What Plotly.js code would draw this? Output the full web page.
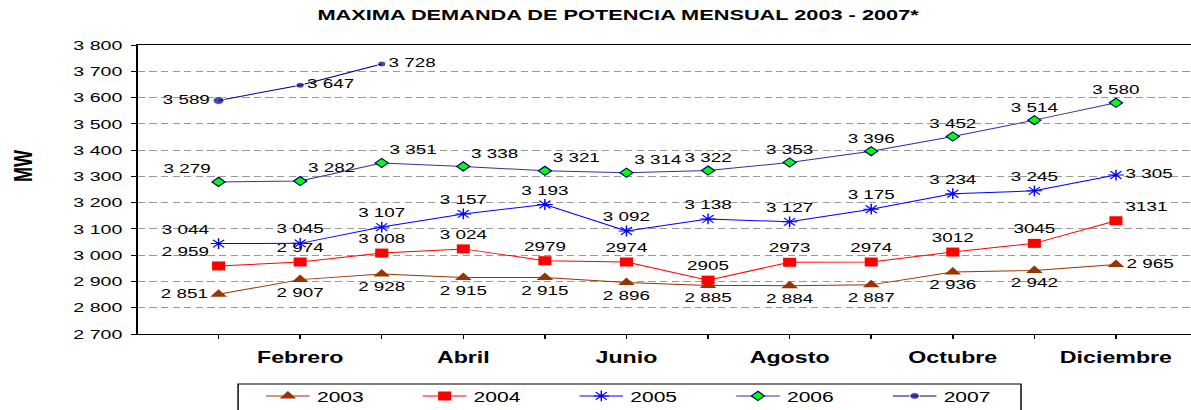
<!DOCTYPE html>
<html>
<head>
<meta charset="utf-8">
<script src="https://cdn.plot.ly/plotly-3.0.1.min.js"></script>
<style>
  html, body { margin: 0; padding: 0; background: #ffffff; overflow: hidden; }
  #chart { width: 821px; height: 410px; transform: scaleX(1.45067); transform-origin: 0 0; }
</style>
</head>
<body>
<div id="chart"></div>
<script>
// ---- data ----
const months = ['Enero','Febrero','Marzo','Abril','Mayo','Junio','Julio','Agosto','Septiembre','Octubre','Noviembre','Diciembre'];
const tickLabels = ['', 'Febrero', '', 'Abril', '', 'Junio', '', 'Agosto', '', 'Octubre', '', 'Diciembre'];
const seriesNames = ['2003', '2004', '2005', '2006', '2007'];

const values2003 = [2851, 2907, 2928, 2915, 2915, 2896, 2885, 2884, 2887, 2936, 2942, 2965];
const values2004 = [2959, 2974, 3008, 3024, 2979, 2974, 2905, 2973, 2974, 3012, 3045, 3131];
const values2005 = [3044, 3045, 3107, 3157, 3193, 3092, 3138, 3127, 3175, 3234, 3245, 3305];
const values2006 = [3279, 3282, 3351, 3338, 3321, 3314, 3322, 3353, 3396, 3452, 3514, 3580];
const values2007 = [3589, 3647, 3728];

const labels2003 = ['2 851','2 907','2 928','2 915','2 915','2 896','2 885','2 884','2 887','2 936','2 942','2 965'];
const labels2004 = ['2 959','2 974','3 008','3 024','2979','2974','2905','2973','2974','3012','3045','3131'];
const labels2005 = ['3 044','3 045','3 107','3 157','3 193','3 092','3 138','3 127','3 175','3 234','3 245','3 305'];
const labels2006 = ['3 279','3 282','3 351','3 338','3 321','3 314','3 322','3 353','3 396','3 452','3 514','3 580'];
const labels2007 = ['3 589','3 647','3 728'];

const titleText = 'MAXIMA DEMANDA DE POTENCIA MENSUAL 2003 - 2007*';
const yTitleText = 'MW';

// ---- styles ----
const FONT = 'Liberation Sans, Arial, sans-serif';
const labelFont = { family: FONT, size: 13, color: '#000000' };

const pos2003 = ['middle left'].concat(Array(10).fill('bottom center'), ['middle right']);
const pos2004 = ['top left'].concat(Array(10).fill('top center'), ['top right']);
const pos2005 = ['top left'].concat(Array(10).fill('top center'), ['middle right']);
const pos2006 = ['top left','top right','top right','top right','top right','top right'].concat(Array(6).fill('top center'));
const pos2007 = ['middle left','middle right','middle right'];

const traces = [
  { name: seriesNames[0], x: months, y: values2003, text: labels2003, textposition: pos2003,
    line: { color: '#993300', width: 1 },
    marker: { symbol: 'triangle-up', size: 10, color: '#993300' } },
  { name: seriesNames[1], x: months, y: values2004, text: labels2004, textposition: pos2004,
    line: { color: '#FF0000', width: 1 },
    marker: { symbol: 'square', size: 9, color: '#FF0000' } },
  { name: seriesNames[2], x: months, y: values2005, text: labels2005, textposition: pos2005,
    line: { color: '#0000FF', width: 1 },
    marker: { symbol: 'asterisk-open', size: 9, color: '#0000FF', line: { color: '#0000FF', width: 1 } } },
  { name: seriesNames[3], x: months, y: values2006, text: labels2006, textposition: pos2006,
    line: { color: '#333399', width: 1 },
    marker: { symbol: 'diamond', size: 7, color: '#00FF00', line: { color: '#000080', width: 1 } } },
  { name: seriesNames[4], x: months.slice(0, values2007.length), y: values2007, text: labels2007, textposition: pos2007,
    line: { color: '#000080', width: 1 },
    marker: { symbol: 'circle', size: [8, 6, 6], color: '#000080' } }
].map(t => Object.assign({ type: 'scatter', mode: 'lines+markers+text', textfont: labelFont,
                           cliponaxis: false, hoverinfo: 'skip' }, t));

const layout = {
  width: 821, height: 410,
  margin: { l: 95, r: 0, t: 45, b: 76, autoexpand: false },
  paper_bgcolor: '#ffffff', plot_bgcolor: '#ffffff',
  separators: ', ',
  font: { family: FONT, color: '#000000' },
  title: { text: titleText, font: { family: FONT, size: 15, weight: 'bold', color: '#000000' },
           xref: 'container', x: 0.519, xanchor: 'center', yref: 'container', y: 0.963, yanchor: 'middle' },
  xaxis: {
    type: 'category', categoryorder: 'array', categoryarray: months,
    tickmode: 'array', tickvals: months, ticktext: tickLabels,
    range: [-0.99, 11.92],
    ticks: 'outside', ticklen: 4, tickcolor: '#000000', tickwidth: 1, ticklabelstandoff: 5,
    showline: true, linecolor: '#000000', linewidth: 1, mirror: true,
    showgrid: false, zeroline: false,
    tickfont: { family: FONT, size: 16, weight: 'bold', color: '#000000' }
  },
  yaxis: {
    range: [2700, 3800], tick0: 2700, dtick: 100, separatethousands: true,
    ticks: 'outside', ticklen: 4, tickcolor: '#000000', tickwidth: 1, ticklabelstandoff: 3,
    showline: true, linecolor: '#000000', linewidth: 1,
    showgrid: true, gridcolor: '#999999', gridwidth: 1, griddash: '5px,3px',
    zeroline: false,
    tickfont: { family: FONT, size: 13.5, color: '#000000' }
  },
  showlegend: true,
  legend: {
    orientation: 'h', x: 0.115, xanchor: 'left', y: -0.159, yanchor: 'top',
    entrywidth: 63, entrywidthmode: 'pixels',
    borderwidth: 0, bgcolor: 'rgba(0,0,0,0)',
    font: { family: FONT, size: 14.5, color: '#000000' }, traceorder: 'normal'
  },
  shapes: [
    { type: 'rect', xref: 'paper', yref: 'paper', x0: 0.0952, x1: 0.8386, y0: -0.173, y1: -0.30,
      line: { color: '#000000', width: 1 }, fillcolor: 'rgba(0,0,0,0)', layer: 'below' }
  ],
  annotations: [
    { text: yTitleText, xref: 'paper', yref: 'paper', x: -0.109, y: 0.581,
      xanchor: 'center', yanchor: 'middle', textangle: -90, showarrow: false,
      font: { family: FONT, size: 18, weight: 'bold', color: '#000000' } }
  ],
  hovermode: false
};

Plotly.newPlot('chart', traces, layout, { displayModeBar: false, staticPlot: true });
</script>
</body>
</html>
